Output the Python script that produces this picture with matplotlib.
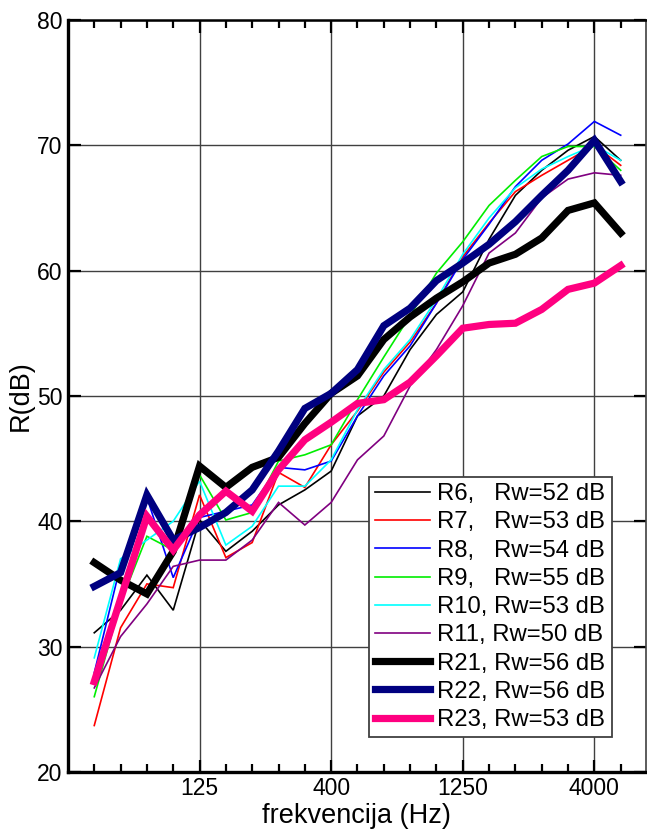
import numpy as np
import matplotlib
matplotlib.use("Agg")
import matplotlib.pyplot as plt

plt.rcParams["font.family"] = ["Liberation Sans", "DejaVu Sans"]

# third-octave bands, 50 Hz .. 5000 Hz
freqs = [50, 63, 80, 100, 125, 160, 200, 250, 315, 400, 500,
         630, 800, 1000, 1250, 1600, 2000, 2500, 3150, 4000, 5000]
major_freqs = [125, 400, 1250, 4000]

r6 = [31.1, 32.9, 35.7, 32.9, 40.1, 37.6, 39.2, 41.3, 42.5, 44.0, 48.4,
      50.0, 53.7, 56.5, 58.3, 62.5, 66.0, 68.0, 69.6, 70.7, 68.8]
r7 = [23.7, 31.5, 35.0, 34.7, 42.1, 37.1, 38.3, 43.9, 42.7, 46.1, 48.8,
      51.9, 54.3, 57.4, 61.1, 63.8, 66.3, 67.6, 68.8, 70.0, 68.4]
r8 = [27.9, 36.5, 41.9, 35.5, 40.3, 40.8, 41.3, 44.3, 44.1, 44.8, 48.4,
      51.6, 54.0, 57.4, 60.9, 63.7, 66.7, 68.8, 70.1, 71.9, 70.8]
r9 = [26.0, 33.5, 38.8, 37.7, 43.7, 40.1, 40.7, 44.8, 45.3, 46.1, 49.7,
      53.1, 56.4, 59.8, 62.3, 65.2, 67.2, 69.1, 69.9, 69.9, 68.0]
r10 = [29.1, 37.0, 38.5, 40.0, 43.2, 38.1, 39.6, 42.8, 42.8, 44.9, 48.9,
       52.1, 54.5, 57.7, 61.3, 64.2, 66.6, 68.1, 69.1, 70.0, 68.8]
r11 = [26.7, 30.8, 33.4, 36.4, 36.9, 36.9, 38.5, 41.5, 39.7, 41.5, 44.9,
       46.8, 50.8, 53.7, 57.2, 61.4, 63.0, 65.8, 67.3, 67.8, 67.6]
r21 = [36.7, 35.3, 34.2, 37.6, 44.4, 42.7, 44.3, 45.1, 47.8, 50.2, 51.6,
       54.5, 56.3, 57.8, 59.1, 60.6, 61.3, 62.6, 64.8, 65.4, 63.0]
r22 = [34.8, 35.9, 42.1, 38.5, 39.5, 40.7, 42.5, 45.6, 49.0, 50.2, 52.1,
       55.6, 57.0, 59.2, 60.6, 62.1, 63.9, 66.0, 68.0, 70.4, 67.1]
r23 = [27.2, 33.8, 40.4, 37.7, 40.5, 42.4, 40.8, 44.1, 46.5, 47.9, 49.4,
       49.7, 51.1, 53.2, 55.4, 55.7, 55.8, 56.9, 58.5, 59.0, 60.4]

labels = ["R6,   Rw=52 dB", "R7,   Rw=53 dB", "R8,   Rw=54 dB",
          "R9,   Rw=55 dB", "R10, Rw=53 dB", "R11, Rw=50 dB",
          "R21, Rw=56 dB", "R22, Rw=56 dB", "R23, Rw=53 dB"]
series = [r6, r7, r8, r9, r10, r11, r21, r22, r23]
colors = ["black", "#ff0000", "#0000ff", "#00ee00", "#00ffff", "#800080",
          "black", "#000080", "#ff0080"]
widths = [1.2] * 6 + [5.2] * 3

fig = plt.figure(figsize=(6.47, 8.30), dpi=100)
ax = fig.add_axes([0.105, 0.07, 0.893, 0.906])

x = np.arange(len(freqs))
for y, c, lw, lab in zip(series, colors, widths, labels):
    ax.plot(x, y, color=c, lw=lw, label=lab, solid_joinstyle="miter")

ax.set_xlim(-1.0, 20.95)
ax.set_ylim(20, 80)
ax.set_xticks([freqs.index(f) for f in major_freqs])
ax.set_xticklabels([str(f) for f in major_freqs])
ax.set_xticks(x, minor=True)
ax.set_yticks(np.arange(20, 81, 10))

ax.grid(True, which="major", color="#404040", lw=1.0)
ax.tick_params(which="both", direction="in", top=True, right=True,
               labelsize=16.5, width=1.6, color="black", pad=4)
ax.tick_params(which="major", length=9)
ax.tick_params(which="minor", length=5.5)

ax.spines["left"].set_linewidth(2.4)
ax.spines["bottom"].set_linewidth(2.4)
ax.spines["top"].set_linewidth(1.8)
ax.spines["right"].set_linewidth(1.2)
ax.spines["right"].set_color("#404040")

ax.set_xlabel("frekvencija (Hz)", fontsize=19.5, labelpad=2)
ax.set_ylabel("R(dB)", fontsize=19.5, labelpad=2)

leg = ax.legend(loc="lower right", bbox_to_anchor=(0.941, 0.0465),
                borderaxespad=0, fontsize=17.2, labelspacing=0.26,
                handlelength=2.3, handletextpad=0.3, borderpad=0.25,
                fancybox=False, framealpha=1)
leg.get_frame().set_edgecolor("#404040")
leg.get_frame().set_linewidth(1.3)

fig.savefig("out.png", dpi=100)
